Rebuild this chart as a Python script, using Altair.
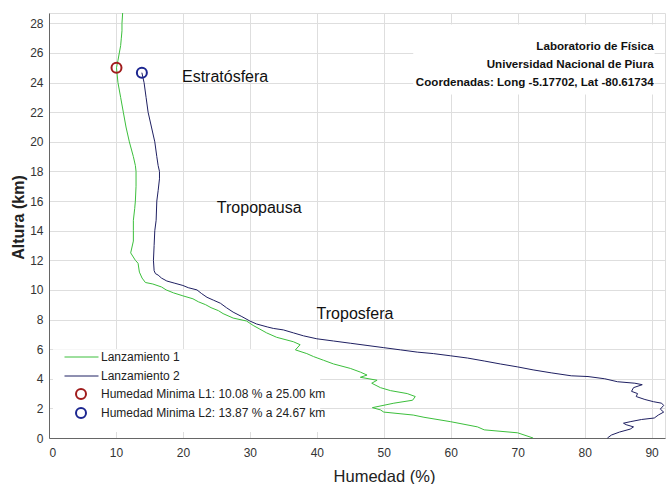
import altair as alt
import pandas as pd

# ---------------- data ----------------
# Lanzamiento 1 (green): altitude km, humidity %
l1_km = [0.0, 0.35, 0.55, 0.75, 1.1, 1.4, 1.55, 1.75, 1.9, 2.05, 2.35, 2.55, 2.8, 3.0, 3.2,
         3.4, 3.7, 3.9, 4.1, 4.25, 4.45, 4.7, 5.0, 5.25, 5.5, 5.7, 5.95, 6.3, 6.5, 6.8,
         7.1, 7.35, 7.6, 7.9, 8.1, 8.4, 8.6, 8.8, 9.0, 9.2, 9.4, 9.6, 9.8, 10.0, 10.2,
         10.4, 10.5, 10.8, 11.2, 11.8, 12.0, 12.5, 13.3, 14.0, 14.7, 15.5, 16.0, 17.0,
         18.0, 18.4, 19.0, 20.0, 21.0, 22.0, 23.0, 24.0, 25.0, 25.5, 26.0, 26.5, 27.0,
         27.5, 28.0, 28.7]
l1_hum = [72.3, 70.0, 65.0, 64.0, 60.0, 56.0, 54.4, 50.0, 49.5, 48.3, 51.5, 54.3, 54.7, 53.5, 51.0,
          49.5, 48.2, 49.0, 46.5, 47.5, 46.5, 45.0, 42.5, 41.0, 39.5, 38.5, 36.8, 37.5, 36.5, 34.0,
          32.5, 31.5, 30.5, 29.5, 27.5, 26.0, 25.3, 24.2, 23.4, 22.3, 21.5, 20.0, 18.6, 17.5, 16.8,
          15.5, 14.4, 13.9, 13.5, 13.3, 12.9, 12.2, 12.6, 12.6, 12.6, 12.8, 12.9, 13.0,
          13.0, 12.9, 12.6, 12.0, 11.5, 11.1, 10.7, 10.3, 10.08, 10.3, 10.5, 10.7, 10.8,
          10.9, 10.9, 11.0]

# Lanzamiento 2 (dark blue)
l2_km = [0.0, 0.2, 0.4, 0.6, 0.75, 0.9, 1.0, 1.1, 1.25, 1.35, 1.55, 1.75, 1.95, 2.2, 2.35,
         2.45, 2.6, 2.8, 3.0, 3.15, 3.4, 3.6, 3.7, 3.8, 4.0, 4.15, 4.2, 4.4, 4.6, 4.8,
         5.0, 5.2, 5.4, 5.55, 5.7, 5.8, 5.95, 6.1, 6.25, 6.4, 6.55, 6.7, 6.9, 7.1, 7.3,
         7.4, 7.5, 7.7, 7.9, 8.2, 8.5, 8.8, 9.1, 9.3, 9.5, 9.75, 10.0, 10.15, 10.3, 10.45,
         10.6, 10.8, 11.0, 11.1, 11.3, 12.0, 13.0, 14.0, 14.7, 16.0, 16.7, 17.5, 18.0,
         18.4, 19.0, 20.0, 21.0, 22.0, 23.0, 24.0, 24.67]
l2_hum = [83.4, 84.0, 85.2, 86.8, 87.3, 86.2, 85.8, 86.8, 88.5, 90.4, 91.0, 91.8, 91.3, 91.8, 91.5,
          90.3, 89.0, 87.7, 87.9, 87.0, 87.3, 88.6, 87.5, 84.9, 83.0, 80.5, 78.0, 75.0, 72.3, 70.0,
          67.4, 65.0, 62.5, 60.0, 57.4, 55.0, 52.5, 50.0, 47.5, 45.0, 42.5, 40.0, 38.0, 36.5, 35.0,
          33.5, 32.6, 31.0, 30.0, 28.8, 27.5, 26.5, 25.6, 24.6, 23.6, 22.8, 22.1, 20.8, 20.0, 18.8,
          17.6, 16.8, 16.3, 15.9, 15.7, 15.6, 15.7, 15.8, 16.0, 16.1, 16.3, 16.5, 16.5,
          16.3, 16.1, 15.8, 15.3, 14.8, 14.5, 14.2, 13.87]

series_names = ["Lanzamiento 1", "Lanzamiento 2"]
series_colors = ["#3cbf3c", "#1f2062"]

min_labels = ["Humedad Minima L1: 10.08 % a 25.00 km", "Humedad Minima L2: 13.87 % a 24.67 km"]
min_hum = [10.08, 13.87]
min_km = [25.00, 24.67]
min_colors = ["#a01c1c", "#1c2690"]

region_labels = ["Estratósfera", "Tropopausa", "Troposfera"]
region_hum = [26.3, 31.4, 45.7]
region_km = [24.4, 15.5, 8.4]

info_lines = ["Laboratorio de Física", "Universidad Nacional de Piura",
              "Coordenadas: Long -5.17702, Lat -80.61734"]
info_hum = [90.3, 90.3, 90.3]
info_km = [26.38, 25.17, 23.96]

# white background boxes (info block, legend) in data coords
box_hum = [54.4, 0.6]
box_hum2 = [90.45, 40.5]
box_km = [23.2, 0.4]
box_km2 = [27.93, 6.0]

x_ticks = list(range(0, 100, 10))
y_ticks = list(range(0, 30, 2))

FONT = "Liberation Sans, Arial, sans-serif"

# ---------------- tables ----------------
rows = []
for i, (k, h) in enumerate(zip(l1_km, l1_hum)):
    rows.append({"serie": series_names[0], "km": k, "hum": h, "idx": i})
for i, (k, h) in enumerate(zip(l2_km, l2_hum)):
    rows.append({"serie": series_names[1], "km": k, "hum": h, "idx": i})
lines_df = pd.DataFrame(rows)

min_df = pd.DataFrame({"marca": min_labels, "hum": min_hum, "km": min_km})
region_df = pd.DataFrame({"txt": region_labels, "hum": region_hum, "km": region_km})
info_df = pd.DataFrame({"txt": info_lines, "hum": info_hum, "km": info_km})
box_df = pd.DataFrame({"hum": box_hum, "hum2": box_hum2, "km": box_km, "km2": box_km2})

xscale = alt.Scale(domain=[0, 92], nice=False, zero=False)
yscale = alt.Scale(domain=[0, 28.7], nice=False, zero=False)

xaxis = alt.Axis(values=x_ticks, tickCount=10, grid=True, gridColor="#dedede", ticks=False,
                 domainColor="#666666", labelFontSize=12, labelColor="#333333",
                 labelFont=FONT, labelPadding=9, labelOverlap=False,
                 title="Humedad (%)", titleFontSize=16.5, titleFontWeight="normal",
                 titleFont=FONT, titleColor="#222222",
                 titleX=335, titleY=38, titleAlign="center", titleBaseline="middle")
yaxis = alt.Axis(values=y_ticks, tickCount=15, grid=True, gridColor="#dedede", ticks=False,
                 domainColor="#666666", labelFontSize=12, labelColor="#333333",
                 labelFont=FONT, labelPadding=6, labelOverlap=False,
                 title="Altura (km)", titleFontSize=16, titleFontWeight="bold",
                 titleFont=FONT, titleColor="#222222",
                 titleX=-31, titleY=204, titleAlign="center", titleBaseline="middle")

X = alt.X("hum:Q", scale=xscale, axis=xaxis)
Y = alt.Y("km:Q", scale=yscale, axis=yaxis)

box = alt.Chart(box_df).mark_rect(color="white").encode(
    x=X, x2="hum2:Q", y=Y, y2="km2:Q")

lines = alt.Chart(lines_df).mark_line(strokeWidth=1).encode(
    x=X, y=Y,
    order=alt.Order("idx:Q"),
    color=alt.Color("serie:N",
                    scale=alt.Scale(domain=series_names, range=series_colors),
                    legend=alt.Legend(title=None, orient="none", legendX=15, legendY=337,
                                      symbolType="stroke", symbolSize=1156,
                                      symbolStrokeWidth=1, clipHeight=14, rowPadding=5,
                                      labelOffset=2, labelFontSize=12, labelFont=FONT,
                                      labelLimit=400, labelColor="#222222", padding=0)),
)

points = alt.Chart(min_df).mark_point(filled=False, size=100, strokeWidth=2, opacity=1).encode(
    x=X, y=Y,
    stroke=alt.Stroke("marca:N",
                      scale=alt.Scale(domain=min_labels, range=min_colors),
                      legend=alt.Legend(title=None, orient="none", legendX=26, legendY=374,
                                        symbolType="circle", symbolSize=100,
                                        symbolStrokeWidth=2, symbolOpacity=1,
                                        clipHeight=14, rowPadding=5,
                                        labelOffset=14, labelFontSize=12, labelFont=FONT,
                                        labelLimit=400, labelColor="#222222", padding=0)),
)

regions = alt.Chart(region_df).mark_text(fontSize=16, font=FONT, color="#111111").encode(
    x=X, y=Y, text="txt:N")

info = alt.Chart(info_df).mark_text(fontSize=11.6, font=FONT, fontWeight="bold",
                                    align="right", color="#111111").encode(
    x=X, y=Y, text="txt:N")

chart = alt.layer(box, lines, points, regions, info).properties(
    width=616, height=425,
    autosize=alt.AutoSizeParams(type="none"),
    padding={"left": 49, "top": 13, "right": 1, "bottom": 46},
).resolve_legend(color="independent", stroke="independent").configure_view(
    stroke=None
).configure(background="white")

chart.save("out.html", embed_options={"renderer": "svg", "actions": False})
